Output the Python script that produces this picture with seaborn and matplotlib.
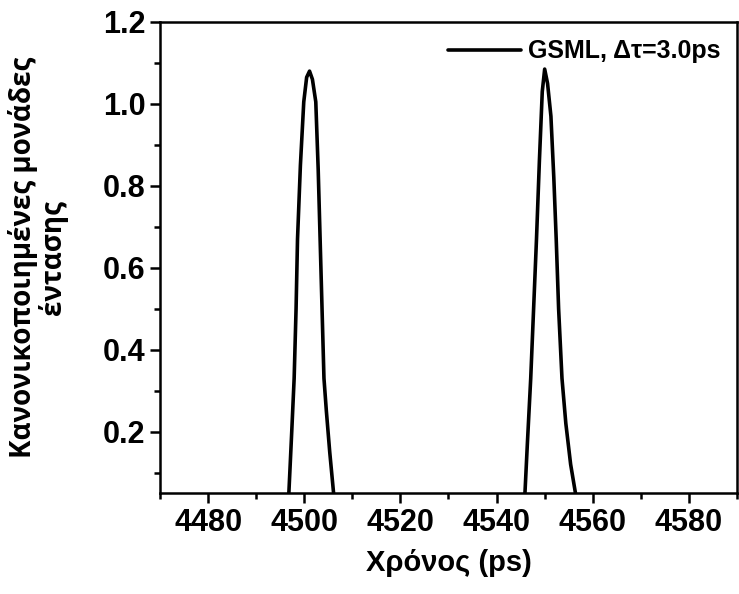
import numpy as np
import pandas as pd
import matplotlib
matplotlib.use("Agg")
import matplotlib.pyplot as plt
import seaborn as sns
from matplotlib.ticker import MultipleLocator

# pulse train (time in ps, normalised intensity)
time_ps = [4470.0, 4494.0, 4496.6, 4497.0, 4497.4, 4497.9, 4498.3, 4498.6, 4499.2,
           4499.9, 4500.5, 4501.1, 4501.7, 4502.4, 4502.9, 4503.3, 4503.7, 4504.1,
           4504.6, 4505.3, 4506.1, 4506.8, 4509.0,
           4543.0, 4545.6, 4545.9, 4546.4, 4547.1, 4547.7, 4548.3, 4548.9, 4549.5,
           4550.0, 4550.6, 4551.3, 4551.9, 4552.4, 4552.9, 4553.6, 4554.4, 4555.4,
           4556.4, 4557.2, 4590.0]
intensity = [0.0, 0.0, 0.0, 0.10, 0.20, 0.33, 0.50, 0.67, 0.85,
             1.005, 1.065, 1.08, 1.06, 1.005, 0.84, 0.67, 0.50, 0.33,
             0.25, 0.15, 0.05, 0.0, 0.0,
             0.0, 0.0, 0.05, 0.17, 0.33, 0.50, 0.67, 0.86, 1.03,
             1.085, 1.05, 0.97, 0.82, 0.67, 0.50, 0.33, 0.22, 0.12,
             0.05, 0.0, 0.0]
series_label = "GSML, Δτ=3.0ps"

x_ticks = [4480, 4500, 4520, 4540, 4560, 4580]
y_ticks = [0.2, 0.4, 0.6, 0.8, 1.0, 1.2]

df = pd.DataFrame({"t": time_ps, "I": intensity})

sns.set_style("ticks")
plt.rcParams["font.family"] = ["Liberation Sans", "DejaVu Sans"]
plt.rcParams["text.color"] = "black"
plt.rcParams["axes.labelcolor"] = "black"
plt.rcParams["xtick.color"] = "black"
plt.rcParams["ytick.color"] = "black"

fig = plt.figure(figsize=(7.39, 5.94), dpi=100)
ax = fig.add_axes([0.2165, 0.170, 0.7808, 0.793])

sns.lineplot(data=df, x="t", y="I", sort=False, estimator=None, ax=ax,
             color="black", linewidth=2.6, label=series_label)

ax.set_xlim(4470, 4590)
ax.set_ylim(0.05, 1.2)
ax.set_xticks(x_ticks)
ax.set_yticks(y_ticks)
ax.xaxis.set_minor_locator(MultipleLocator(10))
ax.yaxis.set_minor_locator(MultipleLocator(0.1))
ax.set_yticklabels([f"{v:.1f}" for v in y_ticks])
ax.tick_params(which="major", direction="out", length=7, width=1.8,
               labelsize=22, color="black", labelcolor="black")
ax.tick_params(which="minor", direction="out", length=4, width=1.8, color="black")
for lab in ax.get_xticklabels() + ax.get_yticklabels():
    lab.set_fontweight("bold")

for sp in ax.spines.values():
    sp.set_visible(True)
    sp.set_linewidth(1.8)
    sp.set_color("black")

ax.set_xlabel("Χρόνος (ps)", fontsize=21, fontweight="bold", labelpad=8,
              color="black")
ax.set_ylabel("Κανονικοποιημένες μονάδες\nέντασης", fontsize=20, fontweight="bold",
              family=["Open Sans", "DejaVu Sans"], linespacing=1.0, color="black")
ax.yaxis.set_label_coords(-0.16, 0.5)

leg = ax.legend(loc="upper right", bbox_to_anchor=(0.998, 0.995), frameon=False,
                handlelength=2.9, handletextpad=0.3, borderaxespad=0.2,
                prop={"size": 18, "weight": "bold"})
for txt in leg.get_texts():
    txt.set_color("black")

fig.savefig("out.png", dpi=100)
